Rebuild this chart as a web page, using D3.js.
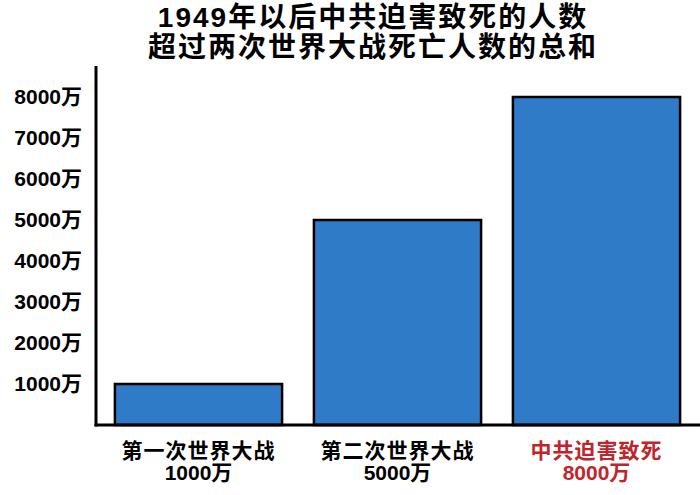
<!DOCTYPE html>
<html><head><meta charset="utf-8">
<script src="https://cdn.jsdelivr.net/npm/d3@7"></script>
<style>
html,body{margin:0;padding:0;background:#fff;}
svg{display:block;}
text{font-family:"Liberation Sans","Noto Sans CJK SC",sans-serif;font-weight:bold;}
</style></head>
<body><svg id="c" width="700" height="495"></svg>
<script>
const titleLines = ["1949年以后中共迫害致死的人数", "超过两次世界大战死亡人数的总和"];
const categories = ["第一次世界大战", "第二次世界大战", "中共迫害致死"];
const valueLabels = ["1000万", "5000万", "8000万"];
const values = [1000, 5000, 8000];
const tickValues = [1000, 2000, 3000, 4000, 5000, 6000, 7000, 8000];
const tickLabels = ["1000万", "2000万", "3000万", "4000万", "5000万", "6000万", "7000万", "8000万"];
const labelColors = ["#000", "#000", "#c0252b"];

const svg = d3.select("#c");
const x = d3.scaleBand().domain(categories).range([99, 696]).paddingInner(0.16).paddingOuter(0.08);
const y = d3.scaleLinear().domain([0, 8000]).range([425, 97]);

// title
svg.append("g").selectAll("text").data(titleLines).join("text")
  .attr("x", 373).attr("y", (d, i) => 27 + i * 30)
  .attr("text-anchor", "middle").attr("font-size", 28).attr("letter-spacing", 2)
  .text(d => d);

// bars
svg.append("g").selectAll("rect").data(values).join("rect")
  .attr("x", (d, i) => x(categories[i]))
  .attr("y", d => y(d))
  .attr("width", x.bandwidth())
  .attr("height", d => y(0) - y(d))
  .attr("fill", "#2f7bc8").attr("stroke", "#000").attr("stroke-width", 2.5);

// y axis (labels only, no ticks)
const yAxis = d3.axisLeft(y).tickValues(tickValues).tickSize(0).tickPadding(0)
  .tickFormat((d, i) => tickLabels[i]);
const gy = svg.append("g").attr("transform", "translate(82,0)").call(yAxis);
gy.select(".domain").remove();
gy.selectAll("text").attr("font-size", 21).attr("fill", "#000")
  .attr("font-family", "'Liberation Sans','Noto Sans CJK SC',sans-serif").attr("font-weight", "bold");

// axis lines
svg.append("line").attr("x1", 96).attr("x2", 96).attr("y1", 66).attr("y2", y(0) + 1.5)
  .attr("stroke", "#000").attr("stroke-width", 3);
svg.append("line").attr("x1", 94.5).attr("x2", 700).attr("y1", y(0)).attr("y2", y(0))
  .attr("stroke", "#000").attr("stroke-width", 3);

// category labels
const gl = svg.append("g");
categories.forEach((c, i) => {
  const cx = x(c) + x.bandwidth() / 2;
  gl.append("text").attr("x", cx).attr("y", 458).attr("text-anchor", "middle")
    .attr("font-size", 21).attr("letter-spacing", 1).attr("fill", labelColors[i]).text(c);
  gl.append("text").attr("x", cx).attr("y", 480).attr("text-anchor", "middle")
    .attr("font-size", 21).attr("fill", labelColors[i]).text(valueLabels[i]);
});
</script></body></html>
